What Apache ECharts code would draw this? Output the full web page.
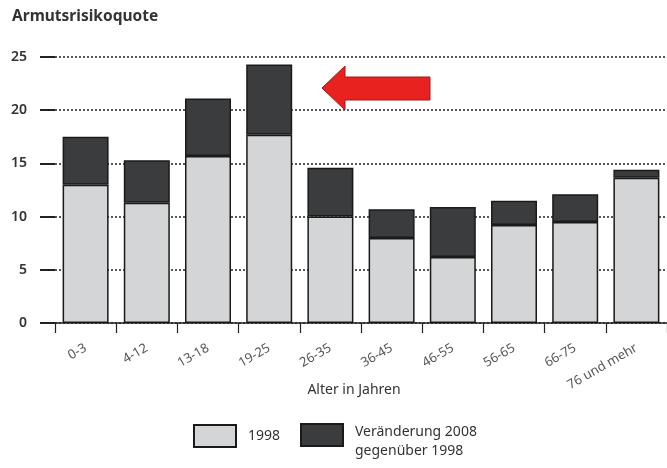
<!DOCTYPE html>
<html>
<head>
<meta charset="utf-8">
<style>
  html, body { margin: 0; padding: 0; background: #fff; }
  #chart { width: 667px; height: 468px; }
</style>
<script src="https://cdn.jsdelivr.net/npm/echarts@6/dist/echarts.min.js"></script>
</head>
<body>
<div id="chart"></div>
<script>
// Altersgruppen und Armutsrisikoquoten (in %)
const ageGroups = ['0-3', '4-12', '13-18', '19-25', '26-35', '36-45', '46-55', '56-65', '66-75', '76 und mehr'];
const rate1998 = [13.0, 11.3, 15.7, 17.7, 10.0, 8.0, 6.2, 9.2, 9.5, 13.65];
const change2008 = [4.5, 4.0, 5.4, 6.6, 4.6, 2.7, 4.7, 2.3, 2.6, 0.75];
const yTicks = { min: 0, max: 25, interval: 5 };

const FONT = 'Noto Sans';
const LIGHT = '#d4d5d7';
const DARK = '#3b3c3e';
const chart = echarts.init(document.getElementById('chart'));

const legendBase = {
  orient: 'horizontal',
  itemWidth: 42,
  itemHeight: 22,
  icon: 'rect',
  textStyle: { fontFamily: FONT, fontSize: 14, color: '#333', padding: [0, 0, 0, 7] }
};

chart.setOption({
  animation: false,
  backgroundColor: '#ffffff',
  textStyle: { fontFamily: FONT },
  title: {
    text: 'Armutsrisikoquote',
    left: 7,
    top: 4,
    textStyle: { fontFamily: FONT, fontSize: 15.5, fontWeight: 'bold', color: '#333' }
  },
  grid: { left: 55, top: 57, width: 620, height: 266, containLabel: false },
  legend: [
    Object.assign({}, legendBase, {
      left: 188,
      top: 419,
      data: ['1998']
    }),
    Object.assign({}, legendBase, {
      left: 295,
      top: 418,
      // Kästchen oben im höheren Eintrag, damit der zweizeilige Text darunter mittig sitzt
      itemHeight: 36,
      icon: 'path://M0,0H42V22H0Z M0,36L0,36',
      data: ['Veränderung'],
      formatter: () => 'Veränderung 2008\ngegenüber 1998',
      textStyle: Object.assign({}, legendBase.textStyle, { lineHeight: 19 })
    })
  ],
  xAxis: {
    type: 'category',
    data: ageGroups,
    name: 'Alter in Jahren',
    nameLocation: 'middle',
    nameGap: 60,
    nameMoveOverlap: false,
    nameTextStyle: { fontFamily: FONT, fontSize: 14, color: '#333', padding: [0, 14, 0, 0] },
    axisLine: { lineStyle: { color: '#222', width: 1.5 } },
    axisTick: { show: true, length: 10, lineStyle: { color: '#222', width: 1.2 } },
    axisLabel: { rotate: 30, margin: 24, fontFamily: FONT, fontSize: 13, color: '#555' }
  },
  yAxis: {
    type: 'value',
    min: yTicks.min,
    max: yTicks.max,
    interval: yTicks.interval,
    axisLine: { show: false },
    axisTick: { show: true, length: 15, lineStyle: { color: '#222', width: 2 } },
    axisLabel: { margin: 28, fontFamily: FONT, fontSize: 14, fontWeight: 600, color: '#333' },
    splitLine: { show: true, lineStyle: { type: [2, 2], color: '#222', width: 1.5 } }
  },
  series: [
    {
      name: '1998',
      type: 'bar',
      stack: 'quote',
      barWidth: 46,
      data: rate1998,
      itemStyle: { color: LIGHT, borderColor: '#1a1a1a', borderWidth: 1.5 }
    },
    {
      name: 'Veränderung',
      type: 'bar',
      stack: 'quote',
      barWidth: 46,
      data: change2008,
      itemStyle: { color: DARK, borderColor: '#1a1a1a', borderWidth: 1.5 }
    }
  ],
  graphic: [
    {
      // roter Hinweispfeil auf die Gruppe 19-25
      type: 'polygon',
      z: 100,
      shape: {
        points: [[322, 88], [345, 66], [345, 77], [430, 77], [430, 100], [345, 100], [345, 110]]
      },
      style: { fill: '#e8231f', stroke: '#a01818', lineWidth: 1 }
    }
  ]
});
</script>
</body>
</html>
